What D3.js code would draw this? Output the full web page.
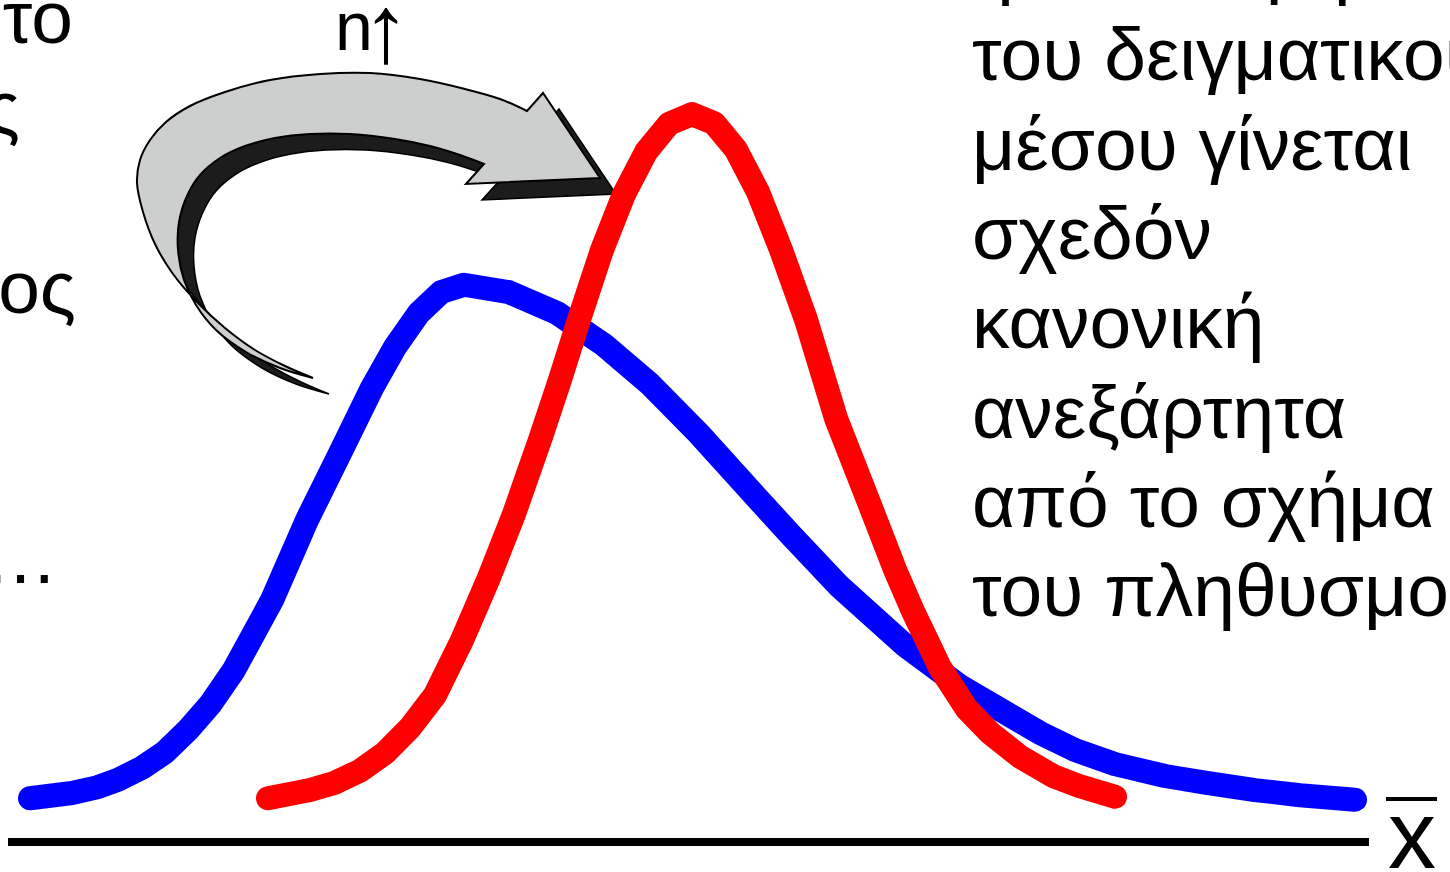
<html lang="el">
<head>
  <meta charset="utf-8"/>
  <title>Κατανομή δειγματικού μέσου</title>
  <script src="https://d3js.org/d3.v7.min.js"></script>
  <style>
  body { margin: 0; background: #fff; }
  svg { display: block; }
  .txt { font-family: "Liberation Sans", Arial, sans-serif; fill: #000; }
  .curve { fill: none; stroke-width: 24px; stroke-linecap: round; stroke-linejoin: round; }
  </style>
</head>
<body>
  <svg id="chart" width="1450" height="872"></svg>
  <script>
    // population distribution (blue) and distribution of the sample mean (red)
    const blueX = [1.0, 3.1, 4.4, 5.4, 6.6, 7.75, 8.9, 10.0, 11.2, 13.1, 14.85, 16.5, 18.1, 19.25, 20.45, 21.55, 22.7,
      24.95, 27.35, 29.7, 32.0, 34.45, 37.0, 39.0, 41.45, 44.75, 47.5, 49.85, 51.5, 53.25, 55.25, 57.75, 59.75, 62.25, 64.5, 67.25];
    const blueY = [5.9, 6.6, 7.4, 8.4, 10.0, 12.1, 15.1, 18.5, 23.2, 32.6, 43.4, 52.4, 61.2, 66.7, 71.3, 74.1, 75.1,
      74.1, 71.3, 67.0, 61.7, 55.0, 47.4, 41.5, 34.5, 26.5, 21.0, 17.3, 14.7, 12.4, 10.5, 8.9, 8.0, 7.0, 6.3, 5.7];

    const redX = [12.9, 15.0, 16.25, 17.5, 18.75, 20.0, 21.25, 22.6, 23.9, 25.2, 26.5, 27.5, 28.45, 29.6, 30.7, 31.8, 32.95,
      34.1, 35.2, 36.3, 37.4, 38.55, 39.8, 41.3, 43.0, 44.25, 45.15, 46.5, 47.85, 49.0, 50.5, 52.15, 53.5, 55.25];
    const redY = [5.9, 7.0, 8.0, 9.6, 12.0, 15.4, 19.8, 27.2, 35.3, 44.2, 54.2, 62.3, 70.4, 79.8, 87.3, 93.0, 96.8,
      98.1, 96.9, 93.3, 87.6, 79.8, 70.4, 57.1, 45.4, 36.7, 31.1, 23.5, 17.9, 14.7, 11.5, 8.9, 7.5, 6.1];

    const rightLines = ["η κατανομή", "του δειγματικου", "μέσου γίνεται", "σχεδόν", "κανονική",
      "ανεξάρτητα", "από το σχήμα", "του πληθυσμο"];
    const leftLines = ["το", "ς", "", "ος", "", "", "…"];
    const leftEnds = [73, 20, 0, 76, 0, 0, 58];

    // curved block arrow "n increases": outer edge, head, inner edge
    const arrowOuter = [[313,378],[285,366],[255,350],[225,328],[197,302],[173,274],[155,244],[143,212],[137,183],
      [140,160],[150,140],[166,122],[190,106],[225,92],[270,80],[320,74],[370,73],[420,79],[465,89],[500,99],[527,111]];
    const arrowHead = [[543,93],[600,178],[466,184],[484,164]];
    const arrowInner = [[484,164],[460,155],[430,146],[395,139],[350,134],[310,134],[275,138],[245,146],[220,158],
      [200,175],[187,196],[179,222],[178,250],[184,280],[196,305],[216,330],[246,352],[280,368],[313,378]];

    const svg = d3.select("#chart");
    const x = d3.scaleLinear().domain([0, 68]).range([10, 1370]);
    const y = d3.scaleLinear().domain([0, 100]).range([842, 100]);

    const line = d3.line().x(d => x(d[0])).y(d => y(d[1]));

    // baseline axis
    svg.append("line")
      .attr("x1", x(-0.1)).attr("x2", x(67.95))
      .attr("y1", y(0)).attr("y2", y(0))
      .attr("stroke", "#000").attr("stroke-width", 8);

    // x-bar label
    svg.append("text").attr("class", "txt")
      .attr("x", 1388).attr("y", 868)
      .attr("font-size", 96).text("x");
    svg.append("line")
      .attr("x1", 1386).attr("x2", 1437).attr("y1", 799).attr("y2", 799)
      .attr("stroke", "#000").attr("stroke-width", 4);

    // arrow: shadow then body
    function arrowPath(dx, dy) {
      const sh = pts => pts.map(p => [p[0] + dx, p[1] + dy]);
      const smooth = d3.line().curve(d3.curveCatmullRom);
      const outer = smooth(sh(arrowOuter));
      const head = sh(arrowHead).map(p => "L" + p[0] + "," + p[1]).join("");
      const inner = smooth(sh(arrowInner)).replace(/^M/, "L");
      return outer + head + inner + "Z";
    }
    svg.append("path")
      .attr("d", arrowPath(16, 16))
      .attr("fill", "#1c1c1c").attr("stroke", "#000").attr("stroke-width", 1.5);
    svg.append("path")
      .attr("d", arrowPath(0, 0))
      .attr("fill", "#cdcfce").attr("stroke", "#000").attr("stroke-width", 2);

    svg.append("text").attr("class", "txt")
      .attr("x", 335).attr("y", 50)
      .attr("font-size", 68).text("n");
    svg.append("text").attr("class", "txt")
      .attr("x", 362).attr("y", 62)
      .attr("font-size", 96).text("↑");

    // curves
    svg.append("path").attr("class", "curve")
      .attr("stroke", "#0000ff")
      .attr("d", line(d3.zip(blueX, blueY)));
    svg.append("path").attr("class", "curve")
      .attr("stroke", "#ff0000")
      .attr("d", line(d3.zip(redX, redY)));

    // right-hand text block
    svg.append("g").selectAll("text").data(rightLines).join("text")
      .attr("class", "txt")
      .attr("x", 972)
      .attr("y", (d, i) => -9 + i * 89.3)
      .attr("font-size", 75)
      .text(d => d);

    // left text block (cut off by the left edge)
    svg.append("g").selectAll("text").data(leftLines).join("text")
      .attr("class", "txt")
      .attr("x", (d, i) => leftEnds[i])
      .attr("y", (d, i) => 43 + i * 90)
      .attr("text-anchor", "end")
      .attr("font-size", 75)
      .text(d => d);
  </script>
</body>
</html>
